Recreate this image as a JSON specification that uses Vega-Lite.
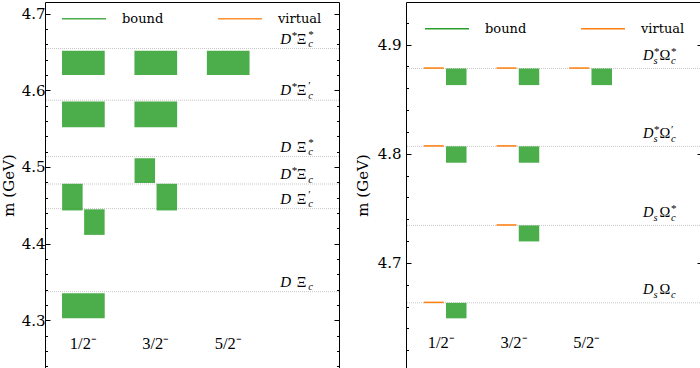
{
  "$schema": "https://vega.github.io/schema/vega-lite/v6.json",
  "padding": {"left": 1, "top": 1, "right": 0, "bottom": 0},
  "background": "white",
  "config": {
    "view": {"stroke": "black", "strokeWidth": 1},
    "font": "DejaVu Serif",
    "axis": {"grid": false, "domain": false, "labelFont": "DejaVu Serif", "labelFontSize": 15, "labelColor": "black", "tickColor": "black", "tickWidth": 1, "titleFont": "DejaVu Serif", "titleFontSize": 15, "titleFontWeight": "normal", "titleColor": "black", "labelOverlap": false},
    "text": {"color": "black"}
  },
  "datasets": {
    "thrL": [
      {"m": 4.6545, "t1": "D", "s1": "*", "t2": "Ξ", "s2": "c", "p2": "*"},
      {"m": 4.587, "t1": "D", "s1": "*", "t2": "Ξ", "s2": "c", "p2": "′"},
      {"m": 4.5135, "t1": "D", "s1": "", "t2": "Ξ", "s2": "c", "p2": "*"},
      {"m": 4.4777, "t1": "D", "s1": "*", "t2": "Ξ", "s2": "c", "p2": ""},
      {"m": 4.4456, "t1": "D", "s1": "", "t2": "Ξ", "s2": "c", "p2": "′"},
      {"m": 4.3372, "t1": "D", "s1": "", "t2": "Ξ", "s2": "c", "p2": ""}
    ],
    "poleL": [
      {"g": 1, "side": "full", "type": "bound", "hi": 4.6515, "lo": 4.6199},
      {"g": 2, "side": "full", "type": "bound", "hi": 4.6515, "lo": 4.6199},
      {"g": 3, "side": "full", "type": "bound", "hi": 4.6515, "lo": 4.6199},
      {"g": 1, "side": "full", "type": "bound", "hi": 4.5852, "lo": 4.5518},
      {"g": 2, "side": "full", "type": "bound", "hi": 4.5852, "lo": 4.5518},
      {"g": 2, "side": "left", "type": "bound", "hi": 4.5113, "lo": 4.479},
      {"g": 1, "side": "left", "type": "bound", "hi": 4.478, "lo": 4.4432},
      {"g": 2, "side": "right", "type": "bound", "hi": 4.478, "lo": 4.4432},
      {"g": 1, "side": "right", "type": "bound", "hi": 4.4447, "lo": 4.4113},
      {"g": 1, "side": "full", "type": "bound", "hi": 4.3351, "lo": 4.3026}
    ],
    "jp": [
      {"g": 1, "jp": "1/2⁻"},
      {"g": 2, "jp": "3/2⁻"},
      {"g": 3, "jp": "5/2⁻"}
    ],
    "thrR": [
      {"m": 4.8781, "t1": "D", "s1": "s", "p1": "*", "t2": "Ω", "s2": "c", "p2": "*"},
      {"m": 4.8068, "t1": "D", "s1": "s", "p1": "*", "t2": "Ω", "s2": "c", "p2": "′"},
      {"m": 4.7344, "t1": "D", "s1": "s", "p1": "", "t2": "Ω", "s2": "c", "p2": "*"},
      {"m": 4.6635, "t1": "D", "s1": "s", "p1": "", "t2": "Ω", "s2": "c", "p2": ""}
    ],
    "poleR": [
      {"g": 1, "side": "left", "type": "virtual", "hi": 4.8785, "lo": 4.8785},
      {"g": 2, "side": "left", "type": "virtual", "hi": 4.8785, "lo": 4.8785},
      {"g": 3, "side": "left", "type": "virtual", "hi": 4.8785, "lo": 4.8785},
      {"g": 1, "side": "left", "type": "virtual", "hi": 4.8072, "lo": 4.8072},
      {"g": 2, "side": "left", "type": "virtual", "hi": 4.8072, "lo": 4.8072},
      {"g": 2, "side": "left", "type": "virtual", "hi": 4.7348, "lo": 4.7348},
      {"g": 1, "side": "left", "type": "virtual", "hi": 4.6639, "lo": 4.6639},
      {"g": 1, "side": "right", "type": "bound", "hi": 4.8781, "lo": 4.8629},
      {"g": 2, "side": "right", "type": "bound", "hi": 4.8781, "lo": 4.8629},
      {"g": 3, "side": "right", "type": "bound", "hi": 4.8781, "lo": 4.8629},
      {"g": 1, "side": "right", "type": "bound", "hi": 4.8068, "lo": 4.7918},
      {"g": 2, "side": "right", "type": "bound", "hi": 4.8068, "lo": 4.7918},
      {"g": 2, "side": "right", "type": "bound", "hi": 4.7344, "lo": 4.7197},
      {"g": 1, "side": "right", "type": "bound", "hi": 4.6635, "lo": 4.6493}
    ]
  },
  "spacing": 14,
  "resolve": {"scale": {"color": "independent"}, "legend": {"color": "independent"}},
  "hconcat": [
    {
      "width": 294,
      "height": 366,
      "resolve": {"axis": {"y": "independent"}},
      "layer": [
        {
          "data": {"name": "thrL"},
          "mark": {"type": "rule", "color": "#c8c8c8", "strokeWidth": 1, "strokeDash": [1, 1]},
          "encoding": {
            "y": {"field": "m", "type": "quantitative", "scale": {"domain": [4.2376, 4.7152], "nice": false, "zero": false},
              "axis": {"orient": "left", "values": [4.3, 4.4, 4.5, 4.6, 4.7], "format": ".1f", "tickSize": -5, "labelPadding": 5, "title": "m (GeV)", "titlePadding": 4.5}}
          }
        },
        {
          "data": {"name": "poleL"},
          "transform": [{"filter": "datum.side === 'full'"}],
          "mark": {"type": "rule", "strokeWidth": 42.7, "strokeCap": "butt", "opacity": 0.85},
          "encoding": {
            "x": {"field": "g", "type": "quantitative", "scale": {"domain": [0.47, 4.53], "nice": false, "zero": false}, "axis": null},
            "y": {"field": "hi", "type": "quantitative", "scale": {"domain": [4.2376, 4.7152], "nice": false, "zero": false},
              "axis": {"orient": "left", "values": [4.24, 4.26, 4.28, 4.3, 4.32, 4.34, 4.36, 4.38, 4.4, 4.42, 4.44, 4.46, 4.48, 4.5, 4.52, 4.54, 4.56, 4.58, 4.6, 4.62, 4.64, 4.66, 4.68, 4.7], "tickSize": -2.5, "labels": false, "title": null}},
            "y2": {"field": "lo"},
            "color": {"field": "type", "type": "nominal", "scale": {"domain": ["bound", "virtual"], "range": ["#2ca02c", "#ff7f0e"]},
              "legend": {"orient": "none", "legendX": 27, "legendY": 4.8, "direction": "horizontal", "columns": 2, "symbolType": "M-2,0H2", "symbolSize": 484, "symbolStrokeWidth": 1.5, "symbolOpacity": 1, "labelFont": "DejaVu Serif", "labelFontSize": 13, "labelColor": "black", "labelOffset": 26, "columnPadding": 51, "title": null}}
          }
        },
        {
          "data": {"name": "poleL"},
          "transform": [{"filter": "datum.side === 'left'"}],
          "mark": {"type": "rule", "strokeWidth": 20.5, "strokeCap": "butt", "opacity": 0.85, "xOffset": -11},
          "encoding": {
            "x": {"field": "g", "type": "quantitative", "scale": {"domain": [0.47, 4.53], "nice": false, "zero": false}, "axis": null},
            "y": {"field": "hi", "type": "quantitative", "scale": {"domain": [4.2376, 4.7152], "nice": false, "zero": false},
              "axis": {"orient": "right", "values": [4.3, 4.4, 4.5, 4.6, 4.7], "tickSize": -5, "labels": false, "title": null}},
            "y2": {"field": "lo"},
            "color": {"field": "type", "type": "nominal", "scale": {"domain": ["bound", "virtual"], "range": ["#2ca02c", "#ff7f0e"]}}
          }
        },
        {
          "data": {"name": "poleL"},
          "transform": [{"filter": "datum.side === 'right'"}],
          "mark": {"type": "rule", "strokeWidth": 20.5, "strokeCap": "butt", "opacity": 0.85, "xOffset": 11},
          "encoding": {
            "x": {"field": "g", "type": "quantitative", "scale": {"domain": [0.47, 4.53], "nice": false, "zero": false}, "axis": null},
            "y": {"field": "hi", "type": "quantitative", "scale": {"domain": [4.2376, 4.7152], "nice": false, "zero": false},
              "axis": {"orient": "right", "values": [4.24, 4.26, 4.28, 4.3, 4.32, 4.34, 4.36, 4.38, 4.4, 4.42, 4.44, 4.46, 4.48, 4.5, 4.52, 4.54, 4.56, 4.58, 4.6, 4.62, 4.64, 4.66, 4.68, 4.7], "tickSize": -2.5, "labels": false, "title": null}},
            "y2": {"field": "lo"},
            "color": {"field": "type", "type": "nominal", "scale": {"domain": ["bound", "virtual"], "range": ["#2ca02c", "#ff7f0e"]}}
          }
        },
        {
          "data": {"name": "jp"},
          "mark": {"type": "text", "font": "Liberation Serif", "fontSize": 16.5, "align": "center", "baseline": "middle"},
          "encoding": {
            "x": {"field": "g", "type": "quantitative", "scale": {"domain": [0.47, 4.53], "nice": false, "zero": false}, "axis": null},
            "y": {"datum": 4.269, "type": "quantitative", "axis": null},
            "text": {"field": "jp"}
          }
        },
        {
          "data": {"name": "thrL"},
          "mark": {"type": "text", "font": "Liberation Serif", "fontSize": 15, "fontStyle": "italic", "align": "left", "baseline": "alphabetic", "dy": -5},
          "encoding": {
            "x": {"datum": 3.72, "type": "quantitative", "axis": null},
            "y": {"field": "m", "type": "quantitative", "axis": null},
            "text": {"field": "t1"}
          }
        },
        {
          "data": {"name": "thrL"},
          "mark": {"type": "text", "font": "Liberation Serif", "fontSize": 11, "align": "left", "baseline": "alphabetic", "dy": -10, "dx": 11.5},
          "encoding": {
            "x": {"datum": 3.72, "type": "quantitative", "axis": null},
            "y": {"field": "m", "type": "quantitative", "axis": null},
            "text": {"field": "s1"}
          }
        },
        {
          "data": {"name": "thrL"},
          "mark": {"type": "text", "font": "Liberation Serif", "fontSize": 15, "align": "left", "baseline": "alphabetic", "dy": -5, "dx": 16.5},
          "encoding": {
            "x": {"datum": 3.72, "type": "quantitative", "axis": null},
            "y": {"field": "m", "type": "quantitative", "axis": null},
            "text": {"field": "t2"}
          }
        },
        {
          "data": {"name": "thrL"},
          "mark": {"type": "text", "font": "Liberation Serif", "fontSize": 10.5, "fontStyle": "italic", "align": "left", "baseline": "alphabetic", "dy": -1.5, "dx": 28},
          "encoding": {
            "x": {"datum": 3.72, "type": "quantitative", "axis": null},
            "y": {"field": "m", "type": "quantitative", "axis": null},
            "text": {"field": "s2"}
          }
        },
        {
          "data": {"name": "thrL"},
          "mark": {"type": "text", "font": "Liberation Serif", "fontSize": 11, "align": "left", "baseline": "alphabetic", "dy": -11, "dx": 28},
          "encoding": {
            "x": {"datum": 3.72, "type": "quantitative", "axis": null},
            "y": {"field": "m", "type": "quantitative", "axis": null},
            "text": {"field": "p2"}
          }
        }
      ]
    },
    {
      "width": 296,
      "height": 366,
      "resolve": {"axis": {"y": "independent"}},
      "layer": [
        {
          "data": {"name": "thrR"},
          "mark": {"type": "rule", "color": "#c8c8c8", "strokeWidth": 1, "strokeDash": [1, 1]},
          "encoding": {
            "y": {"field": "m", "type": "quantitative", "scale": {"domain": [4.6038, 4.939], "nice": false, "zero": false},
              "axis": {"orient": "left", "values": [4.7, 4.8, 4.9], "format": ".1f", "tickSize": -5, "labelPadding": 10, "title": "m (GeV)", "titlePadding": 7}}
          }
        },
        {
          "data": {"name": "poleR"},
          "transform": [{"filter": "datum.side === 'right'"}],
          "mark": {"type": "rule", "strokeWidth": 20.5, "strokeCap": "butt", "opacity": 0.85, "xOffset": 11},
          "encoding": {
            "x": {"field": "g", "type": "quantitative", "scale": {"domain": [0.46, 4.53], "nice": false, "zero": false}, "axis": null},
            "y": {"field": "hi", "type": "quantitative", "scale": {"domain": [4.6038, 4.939], "nice": false, "zero": false},
              "axis": {"orient": "left", "values": [4.62, 4.64, 4.66, 4.68, 4.7, 4.72, 4.74, 4.76, 4.78, 4.8, 4.82, 4.84, 4.86, 4.88, 4.9, 4.92], "tickSize": -2.5, "labels": false, "title": null}},
            "y2": {"field": "lo"},
            "color": {"field": "type", "type": "nominal", "scale": {"domain": ["bound", "virtual"], "range": ["#2ca02c", "#ff7f0e"]},
              "legend": {"orient": "none", "legendX": 29, "legendY": 14.8, "direction": "horizontal", "columns": 2, "symbolType": "M-2,0H2", "symbolSize": 484, "symbolStrokeWidth": 1.5, "symbolOpacity": 1, "labelFont": "DejaVu Serif", "labelFontSize": 13, "labelColor": "black", "labelOffset": 26, "columnPadding": 51, "title": null}}
          }
        },
        {
          "data": {"name": "poleR"},
          "transform": [{"filter": "datum.side === 'left'"}],
          "mark": {"type": "rule", "strokeWidth": 1.5, "xOffset": -21.5, "x2Offset": -1.5},
          "encoding": {
            "x": {"field": "g", "type": "quantitative", "scale": {"domain": [0.46, 4.53], "nice": false, "zero": false}, "axis": null},
            "x2": {"field": "g"},
            "y": {"field": "hi", "type": "quantitative", "scale": {"domain": [4.6038, 4.939], "nice": false, "zero": false},
              "axis": {"orient": "right", "values": [4.7, 4.8, 4.9], "tickSize": -5, "labels": false, "title": null}},
            "color": {"field": "type", "type": "nominal", "scale": {"domain": ["bound", "virtual"], "range": ["#2ca02c", "#ff7f0e"]}}
          }
        },
        {
          "data": {"name": "jp"},
          "mark": {"type": "text", "font": "Liberation Serif", "fontSize": 16.5, "align": "center", "baseline": "middle", "dx": -4},
          "encoding": {
            "x": {"field": "g", "type": "quantitative", "scale": {"domain": [0.46, 4.53], "nice": false, "zero": false}, "axis": null},
            "y": {"datum": 4.6265, "type": "quantitative", "axis": null},
            "text": {"field": "jp"}
          }
        },
        {
          "data": {"name": "thrR"},
          "mark": {"type": "text", "font": "Liberation Serif", "fontSize": 14.5, "fontStyle": "italic", "align": "left", "baseline": "alphabetic", "dy": -8.5},
          "encoding": {
            "x": {"datum": 3.72, "type": "quantitative", "axis": null},
            "y": {"field": "m", "type": "quantitative",
              "axis": {"orient": "right", "values": [4.62, 4.64, 4.66, 4.68, 4.7, 4.72, 4.74, 4.76, 4.78, 4.8, 4.82, 4.84, 4.86, 4.88, 4.9, 4.92], "tickSize": -2.5, "labels": false, "title": null}},
            "text": {"field": "t1"}
          }
        },
        {
          "data": {"name": "thrR"},
          "mark": {"type": "text", "font": "Liberation Serif", "fontSize": 10.5, "fontStyle": "italic", "align": "left", "baseline": "alphabetic", "dy": -4.5, "dx": 10.5},
          "encoding": {
            "x": {"datum": 3.72, "type": "quantitative", "axis": null},
            "y": {"field": "m", "type": "quantitative", "axis": null},
            "text": {"field": "s1"}
          }
        },
        {
          "data": {"name": "thrR"},
          "mark": {"type": "text", "font": "Liberation Serif", "fontSize": 11, "align": "left", "baseline": "alphabetic", "dy": -13.5, "dx": 11},
          "encoding": {
            "x": {"datum": 3.72, "type": "quantitative", "axis": null},
            "y": {"field": "m", "type": "quantitative", "axis": null},
            "text": {"field": "p1"}
          }
        },
        {
          "data": {"name": "thrR"},
          "mark": {"type": "text", "font": "Liberation Serif", "fontSize": 14.5, "align": "left", "baseline": "alphabetic", "dy": -8.5, "dx": 16.5},
          "encoding": {
            "x": {"datum": 3.72, "type": "quantitative", "axis": null},
            "y": {"field": "m", "type": "quantitative", "axis": null},
            "text": {"field": "t2"}
          }
        },
        {
          "data": {"name": "thrR"},
          "mark": {"type": "text", "font": "Liberation Serif", "fontSize": 10.5, "fontStyle": "italic", "align": "left", "baseline": "alphabetic", "dy": -4.5, "dx": 28},
          "encoding": {
            "x": {"datum": 3.72, "type": "quantitative", "axis": null},
            "y": {"field": "m", "type": "quantitative", "axis": null},
            "text": {"field": "s2"}
          }
        },
        {
          "data": {"name": "thrR"},
          "mark": {"type": "text", "font": "Liberation Serif", "fontSize": 11, "align": "left", "baseline": "alphabetic", "dy": -13.5, "dx": 28},
          "encoding": {
            "x": {"datum": 3.72, "type": "quantitative", "axis": null},
            "y": {"field": "m", "type": "quantitative", "axis": null},
            "text": {"field": "p2"}
          }
        }
      ]
    }
  ]
}
